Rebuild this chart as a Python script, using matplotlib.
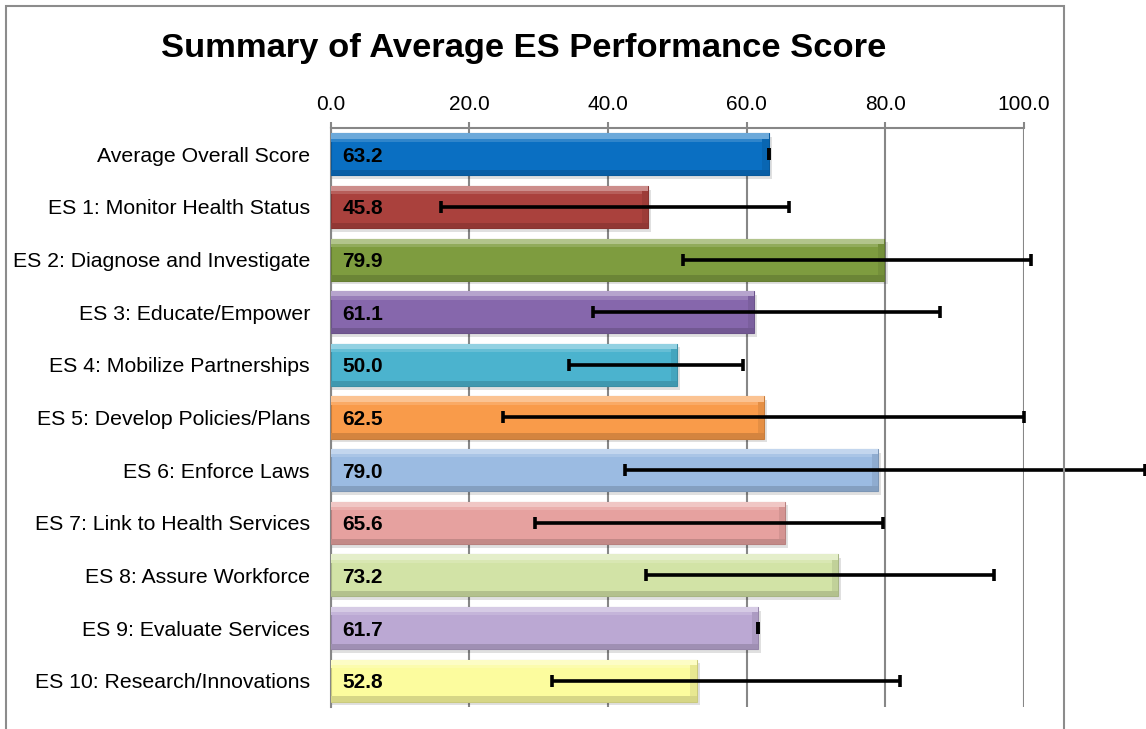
import numpy as np
import matplotlib
matplotlib.use("Agg")
import matplotlib.pyplot as plt
from matplotlib.colors import to_rgb
from matplotlib.patches import Rectangle

plt.rcParams['font.family'] = ['Liberation Sans', 'DejaVu Sans']

# данные
labels = ["Average Overall Score", "ES 1: Monitor Health Status",
          "ES 2: Diagnose and Investigate", "ES 3: Educate/Empower",
          "ES 4: Mobilize Partnerships", "ES 5: Develop Policies/Plans",
          "ES 6: Enforce Laws", "ES 7: Link to Health Services",
          "ES 8: Assure Workforce", "ES 9: Evaluate Services",
          "ES 10: Research/Innovations"]
scores = [63.2, 45.8, 79.9, 61.1, 50.0, 62.5, 79.0, 65.6, 73.2, 61.7, 52.8]
err_lo = [63.2, 15.9, 50.9, 37.8, 34.4, 24.9, 42.4, 29.5, 45.5, 61.7, 31.9]
err_hi = [63.2, 66.1, 101.0, 87.9, 59.5, 100.0, 117.5, 79.7, 95.7, 61.7, 82.1]
bar_colors = ['#0A6FC2', '#AA413D', '#7E9C3F', '#8667AC', '#4BB3CE', '#F99B4A',
              '#9BBBE2', '#E6A19F', '#D2E3A6', '#BBA8D3', '#FCFC9E']


def mix(c, other, t):
    c = np.array(to_rgb(c))
    return tuple(c * (1 - t) + np.array(other) * t)


fig = plt.figure(figsize=(11.46, 7.29), dpi=100)
ax = fig.add_axes([0.2886, 0.0302, 0.8933 - 0.2886, 0.8244 - 0.0302])

y = np.arange(len(labels))
h = 0.8

# тінь
ax.barh(y + 0.07, np.array(scores) + 0.35, height=h, left=0.1,
        color='#000000', alpha=0.12, zorder=2)
# основні смуги
ax.barh(y, scores, height=h, color=bar_colors,
        edgecolor=[mix(c, (0, 0, 0), 0.2) for c in bar_colors], linewidth=0.8, zorder=3)
# світла смужка зверху
ax.barh(y - h / 2 + 0.05, scores, height=0.1,
        color=[mix(c, (1, 1, 1), 0.4) for c in bar_colors], zorder=4)
ax.barh(y - h / 2 + 0.13, scores, height=0.06,
        color=[mix(c, (1, 1, 1), 0.15) for c in bar_colors], zorder=4)
# темна смужка знизу
ax.barh(y + h / 2 - 0.05, scores, height=0.1,
        color=[mix(c, (0, 0, 0), 0.15) for c in bar_colors], zorder=4)
# правий край
ax.barh(y, 0.9, height=h - 0.2, left=np.array(scores) - 0.9,
        color=[mix(c, (0, 0, 0), 0.08) for c in bar_colors], zorder=4)

# похибки
for i in range(len(scores)):
    ax.errorbar(scores[i], y[i],
                xerr=[[scores[i] - err_lo[i]], [err_hi[i] - scores[i]]],
                fmt='none', ecolor='black', elinewidth=2.6, capsize=4,
                capthick=2.6, zorder=6, clip_on=False)

# підписи значень
for i in range(len(scores)):
    ax.annotate("%.1f" % scores[i], (0, y[i]), xytext=(8.5, 0),
                textcoords='offset points', ha='left', va='center_baseline',
                fontsize=15, fontweight='bold', color='black', zorder=7)

ax.set_xlim(0, 100)
ax.set_ylim(len(labels) - 0.5, -0.5)
ax.set_xticks(np.arange(0, 101, 20))
ax.set_xticklabels(["%.1f" % v for v in np.arange(0, 101, 20)])
ax.xaxis.tick_top()
ax.tick_params(axis='x', direction='out', length=4, width=1.5, color='#878787',
               labelsize=15, pad=6)
ax.set_yticks(y)
ax.set_yticklabels(labels, fontsize=15.3)
ax.tick_params(axis='y', length=0, pad=15)
ax.grid(axis='x', color='#878787', linewidth=1.5, zorder=0)
ax.set_axisbelow(True)
for s in ['right', 'bottom']:
    ax.spines[s].set_visible(False)
ax.spines['top'].set_color('#878787')
ax.spines['top'].set_linewidth(1.5)
ax.spines['left'].set_color('#878787')
ax.spines['left'].set_linewidth(1.5)

fig.text(0.457, 1 - 56.7 / 729, "Summary of Average ES Performance Score",
         ha='center', va='baseline', fontsize=24.8, fontweight='bold')

# рамка діаграми
fig.add_artist(Rectangle((6 / 1146, -0.05), (1064 - 6) / 1146, 1.05 - 6 / 729,
                         transform=fig.transFigure, fill=False,
                         edgecolor='#8c8c8c', linewidth=1.5))

fig.savefig("out.png", dpi=100)
